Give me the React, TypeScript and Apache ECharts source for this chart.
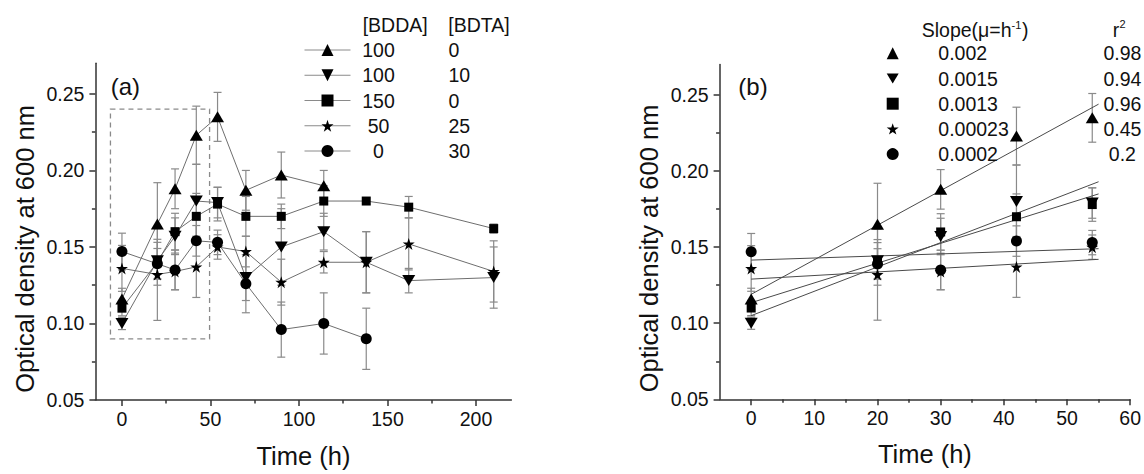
import React, { useEffect, useRef } from "react";
import * as echarts from "echarts";

// ---------- data ----------
const times = [0, 20, 30, 42, 54, 70, 90, 114, 138, 162, 210];

const upVals = [0.116, 0.165, 0.188, 0.223, 0.235, 0.187, 0.197, 0.19];
const upErr = [0.007, 0.027, 0.013, 0.019, 0.016, 0.013, 0.015, 0.01];
const downVals = [0.1, 0.141, 0.157, 0.18, 0.179, 0.13, 0.15, 0.16, 0.14, 0.128, 0.13];
const downErr = [0.004, 0.012, 0.012, 0.024, 0.01, 0.015, 0.025, 0.012, 0.02, 0.008, 0.02];
const squareVals = [0.11, 0.14, 0.16, 0.17, 0.178, 0.17, 0.17, 0.18, 0.18, 0.176, 0.162];
const squareErr = [0.005, 0.015, 0.012, 0.015, 0.011, 0.013, 0.008, 0.01, 0.002, 0.007, 0.003];
const starVals = [0.136, 0.132, 0.134, 0.137, 0.15, 0.147, 0.127, 0.14, 0.14, 0.152, 0.134];
const starErr = [0.015, 0.03, 0.012, 0.02, 0.008, 0.01, 0.015, 0.007, 0.02, 0.017, 0.02];
const circleVals = [0.147, 0.139, 0.135, 0.154, 0.153, 0.126, 0.096, 0.1, 0.09];
const circleErr = [0.012, 0.01, 0.013, 0.01, 0.008, 0.019, 0.018, 0.02, 0.02];

const bddaLabels = ["100", "100", "150", "50", "0"];
const bdtaLabels = ["0", "10", "0", "25", "30"];
const slopeLabels = ["0.002", "0.0015", "0.0013", "0.00023", "0.0002"];
const r2Labels = ["0.98", "0.94", "0.96", "0.45", "0.2"];

// fitted lines in panel (b)
const fitX = [0, 55];
const fitStart = [0.119, 0.105, 0.1135, 0.129, 0.1415];
const fitEnd = [0.244, 0.193, 0.185, 0.142, 0.149];
const growthPoints = 5; // first 5 time points shown in panel (b)

const xTicksA = [0, 50, 100, 150, 200];
const xMinorA = [25, 75, 125, 175];
const xTicksB = [0, 10, 20, 30, 40, 50, 60];
const xMinorB = [5, 15, 25, 35, 45, 55];
const yTicks = [0.05, 0.1, 0.15, 0.2, 0.25];
const yMinor = [0.075, 0.125, 0.175, 0.225];
const zoomBoxX = [-6.5, 49.5];
const zoomBoxY = [0.09, 0.24];

const allVals = [upVals, downVals, squareVals, starVals, circleVals];
const allErrs = [upErr, downErr, squareErr, starErr, circleErr];

// ---------- styles ----------
const FONT = "'Liberation Sans', Arial, sans-serif";
const TXT = "#111";
const DOWN = "path://M0,0L12,0L6,10Z";
const STAR =
  "path://M50,0L61.2,34.5L97.6,34.5L68.2,55.9L79.4,90.5L50,69.1L20.6,90.5L31.8,55.9L2.4,34.5L38.8,34.5Z";
const symbols = ["triangle", DOWN, "rect", STAR, "circle"];
const symbolSizes: any[] = [[13, 11], [13, 11], 9, 12, 11];

const axisLineStyle = { color: "#333", width: 1.5 };

function mainX(grid: number, min: number, max: number, ticks: number[], gap: number) {
  return {
    gridIndex: grid,
    type: "value",
    min,
    max,
    position: "bottom",
    axisLine: { show: true, onZero: false, lineStyle: axisLineStyle },
    axisTick: { show: true, customValues: ticks, length: 6, lineStyle: axisLineStyle },
    axisLabel: { customValues: ticks, fontSize: 19.5, color: TXT, fontFamily: FONT, margin: 9 },
    splitLine: { show: false },
    name: "Time (h)",
    nameLocation: "middle",
    nameGap: gap,
    nameTextStyle: { fontSize: 25.5, color: TXT, fontFamily: FONT },
  };
}
function minorX(grid: number, min: number, max: number, ticks: number[]) {
  return {
    gridIndex: grid,
    type: "value",
    min,
    max,
    position: "bottom",
    axisLine: { show: false, onZero: false },
    axisTick: { show: true, customValues: ticks, length: 3.5, lineStyle: axisLineStyle },
    axisLabel: { show: false },
    splitLine: { show: false },
  };
}
function mainY(grid: number) {
  return {
    gridIndex: grid,
    type: "value",
    min: 0.05,
    max: 0.27,
    position: "left",
    axisLine: { show: true, onZero: false, lineStyle: axisLineStyle },
    axisTick: { show: true, customValues: yTicks, length: 6, lineStyle: axisLineStyle },
    axisLabel: {
      customValues: yTicks,
      fontSize: 19.5,
      color: TXT,
      fontFamily: FONT,
      margin: 11,
      formatter: (v: number) => v.toFixed(2),
    },
    splitLine: { show: false },
  };
}
function minorY(grid: number) {
  return {
    gridIndex: grid,
    type: "value",
    min: 0.05,
    max: 0.27,
    position: "left",
    axisLine: { show: false, onZero: false },
    axisTick: { show: true, customValues: yMinor, length: 3.5, lineStyle: axisLineStyle },
    axisLabel: { show: false },
    splitLine: { show: false },
  };
}

function errData(limit: number) {
  const out: number[][] = [];
  allVals.forEach((vals, i) => {
    vals.forEach((v, j) => {
      if (j >= limit) return;
      const e = allErrs[i][j];
      out.push([times[j], v - e, v + e]);
    });
  });
  return out;
}

function errorSeries(xi: number, yi: number, data: number[][]) {
  return {
    type: "custom",
    xAxisIndex: xi,
    yAxisIndex: yi,
    data,
    z: 1,
    silent: true,
    encode: { x: 0, y: [1, 2] },
    renderItem: (_p: any, api: any) => {
      const x = api.value(0);
      const lo = api.coord([x, api.value(1)]);
      const hi = api.coord([x, api.value(2)]);
      const w = 4;
      const st = { stroke: "#8a8a8a", lineWidth: 1.2 };
      return {
        type: "group",
        children: [
          { type: "line", shape: { x1: hi[0], y1: hi[1], x2: lo[0], y2: lo[1] }, style: st },
          { type: "line", shape: { x1: hi[0] - w, y1: hi[1], x2: hi[0] + w, y2: hi[1] }, style: st },
          { type: "line", shape: { x1: lo[0] - w, y1: lo[1], x2: lo[0] + w, y2: lo[1] }, style: st },
        ],
      };
    },
  };
}

const aNames = bddaLabels.map((b, i) => `[BDDA] ${b} [BDTA] ${bdtaLabels[i]}`);
const bNames = slopeLabels.map((s, i) => `Slope ${s} r2 ${r2Labels[i]}`);

function buildOption() {
  const series: any[] = [];
  series.push(errorSeries(0, 0, errData(99)));
  series.push(errorSeries(2, 2, errData(growthPoints)));

  // fitted lines (b)
  fitStart.forEach((s, i) => {
    series.push({
      type: "line",
      name: `fit ${i}`,
      xAxisIndex: 2,
      yAxisIndex: 2,
      data: [
        [fitX[0], s],
        [fitX[1], fitEnd[i]],
      ],
      symbol: "none",
      lineStyle: { color: "#4a4a4a", width: 1 },
      z: 2,
      silent: true,
    });
  });

  allVals.forEach((vals, i) => {
    const s: any = {
      type: "line",
      name: aNames[i],
      xAxisIndex: 0,
      yAxisIndex: 0,
      data: vals.map((v, j) => [times[j], v]),
      symbol: symbols[i],
      symbolSize: symbolSizes[i],
      itemStyle: { color: "#000" },
      lineStyle: { color: "#6e6e6e", width: 1 },
      z: 3,
    };
    if (i === 0) {
      s.markArea = {
        silent: true,
        itemStyle: {
          color: "rgba(0,0,0,0)",
          borderColor: "#8a8a8a",
          borderWidth: 1.3,
          borderType: [5, 4],
        },
        data: [[{ coord: [zoomBoxX[0], zoomBoxY[1]] }, { coord: [zoomBoxX[1], zoomBoxY[0]] }]],
      };
    }
    series.push(s);
  });

  allVals.forEach((vals, i) => {
    series.push({
      type: "scatter",
      name: bNames[i],
      xAxisIndex: 2,
      yAxisIndex: 2,
      data: vals.slice(0, growthPoints).map((v, j) => [times[j], v]),
      symbol: symbols[i],
      symbolSize: symbolSizes[i],
      itemStyle: { color: "#000", opacity: 1 },
      z: 3,
    });
  });

  const richBase = { fontSize: 19.5, color: TXT, fontFamily: FONT, lineHeight: 20 };

  return {
    animation: false,
    textStyle: { fontFamily: FONT },
    grid: [
      { left: 95.4, top: 63.3, width: 416, height: 339 },
      { left: 719.6, top: 64.6, width: 412.3, height: 334.7 },
    ],
    xAxis: [
      mainX(0, -15, 220, xTicksA, 43),
      minorX(0, -15, 220, xMinorA),
      mainX(1, -5, 60, xTicksB, 42),
      minorX(1, -5, 60, xMinorB),
    ],
    yAxis: [mainY(0), minorY(0), mainY(1), minorY(1)],
    legend: [
      {
        data: aNames,
        orient: "vertical",
        left: 304,
        top: 40,
        padding: 0,
        itemWidth: 46,
        itemHeight: 15,
        itemGap: 5.25,
        selectedMode: false,
        lineStyle: { color: "#8a8a8a", width: 1 },
        itemStyle: { color: "#000" },
        textStyle: {
          ...richBase,
          rich: {
            c1: { ...richBase, width: 46, align: "center" },
            g: { ...richBase, width: 47 },
            c2: { ...richBase, align: "left" },
          },
        },
        formatter: (name: string) => {
          const i = aNames.indexOf(name);
          return `{c1|${bddaLabels[i]}}{g| }{c2|${bdtaLabels[i]}}`;
        },
      },
      {
        data: bNames,
        orient: "vertical",
        left: 886.7,
        top: 43.3,
        padding: 0,
        itemWidth: 12,
        itemHeight: 12,
        itemGap: 5.2,
        selectedMode: false,
        textStyle: {
          ...richBase,
          rich: {
            g: { ...richBase, width: 34.6 },
            s: { ...richBase, width: 164.1, align: "left" },
            r: { ...richBase, width: 40, align: "center" },
          },
        },
        formatter: (name: string) => {
          const i = bNames.indexOf(name);
          return `{g| }{s|${slopeLabels[i]}}{r|${r2Labels[i]}}`;
        },
      },
    ],
    graphic: [
      // axis titles (y)
      {
        type: "text",
        x: 25,
        y: 249,
        rotation: Math.PI / 2,
        style: {
          text: "Optical density at 600 nm",
          fontSize: 25.5,
          fontFamily: FONT,
          fill: TXT,
          align: "center",
          verticalAlign: "middle",
        },
      },
      {
        type: "text",
        x: 648.5,
        y: 248.5,
        rotation: Math.PI / 2,
        style: {
          text: "Optical density at 600 nm",
          fontSize: 25.5,
          fontFamily: FONT,
          fill: TXT,
          align: "center",
          verticalAlign: "middle",
        },
      },
      // panel labels
      {
        type: "text",
        x: 110.7,
        y: 86,
        style: { text: "(a)", fontSize: 24, fontFamily: FONT, fill: TXT, align: "left", verticalAlign: "middle" },
      },
      {
        type: "text",
        x: 738.3,
        y: 86,
        style: { text: "(b)", fontSize: 24, fontFamily: FONT, fill: TXT, align: "left", verticalAlign: "middle" },
      },
      // legend headers (a)
      {
        type: "text",
        x: 362.7,
        y: 25,
        style: { text: "[BDDA]", fontSize: 19.5, fontFamily: FONT, fill: TXT, align: "left", verticalAlign: "middle" },
      },
      {
        type: "text",
        x: 448.3,
        y: 25,
        style: { text: "[BDTA]", fontSize: 19.5, fontFamily: FONT, fill: TXT, align: "left", verticalAlign: "middle" },
      },
      // legend headers (b)
      {
        type: "text",
        x: 921.7,
        y: 30,
        style: { text: "Slope(μ=h", fontSize: 19.5, fontFamily: FONT, fill: TXT, align: "left", verticalAlign: "middle" },
      },
      {
        type: "text",
        x: 1011.5,
        y: 25,
        style: { text: "-1", fontSize: 11, fontFamily: FONT, fill: TXT, align: "left", verticalAlign: "middle" },
      },
      {
        type: "text",
        x: 1022,
        y: 30,
        style: { text: ")", fontSize: 19.5, fontFamily: FONT, fill: TXT, align: "left", verticalAlign: "middle" },
      },
      {
        type: "text",
        x: 1112.7,
        y: 30,
        style: { text: "r", fontSize: 19.5, fontFamily: FONT, fill: TXT, align: "left", verticalAlign: "middle" },
      },
      {
        type: "text",
        x: 1119.5,
        y: 24,
        style: { text: "2", fontSize: 11, fontFamily: FONT, fill: TXT, align: "left", verticalAlign: "middle" },
      },
    ],
    series,
  };
}

export default function App() {
  const ref = useRef<HTMLDivElement>(null);
  useEffect(() => {
    if (!ref.current) return;
    const chart = echarts.init(ref.current, undefined, { renderer: "svg" });
    chart.setOption(buildOption() as any);
    return () => chart.dispose();
  }, []);
  return (
    <div
      ref={ref}
      style={{ position: "fixed", left: 0, top: 0, width: 1144, height: 474, background: "#fff" }}
    />
  );
}
